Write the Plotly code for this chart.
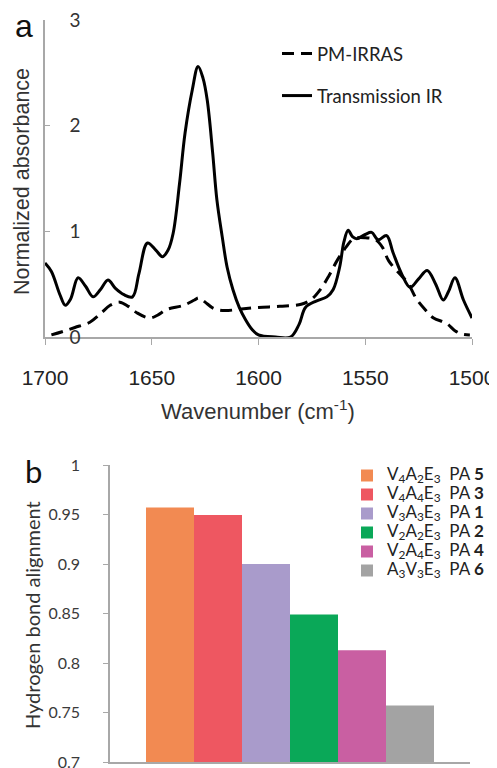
import plotly.graph_objects as go

W, H = 497, 768
OFF = 8  # page body margin offset

# ---- Panel a data ----
trans_wn = [1700, 1697, 1693, 1690.5, 1688, 1684.5, 1681, 1677.5, 1674, 1670.5, 1667, 1663, 1659,
            1656, 1652, 1648, 1645, 1642.4, 1640, 1637, 1634.4, 1631, 1628.3, 1626, 1624, 1621.5,
            1619.5, 1617, 1614.7, 1612, 1609, 1606, 1603, 1600, 1592, 1585, 1581, 1578, 1573,
            1568, 1565, 1562, 1560, 1558, 1556, 1554, 1550, 1547, 1544, 1540, 1537, 1533, 1529,
            1525, 1521, 1517, 1513.5, 1511, 1508, 1504, 1500]
trans_abs = [0.70, 0.62, 0.40, 0.30, 0.36, 0.56, 0.48, 0.38, 0.45, 0.54, 0.46, 0.40, 0.38,
             0.60, 0.89, 0.82, 0.76, 0.82, 0.98, 1.45, 1.93, 2.34, 2.56, 2.45, 2.24, 1.75,
             1.30, 0.95, 0.66, 0.45, 0.28, 0.16, 0.07, 0.02, 0.00, 0.00, 0.12, 0.28, 0.34,
             0.38, 0.45, 0.66, 0.90, 1.01, 0.95, 0.93, 0.97, 0.99, 0.92, 0.96, 0.80, 0.60, 0.47,
             0.55, 0.63, 0.50, 0.35, 0.43, 0.56, 0.35, 0.18]

pm_wn = [1697, 1692, 1686, 1679, 1674, 1669.5, 1665, 1661, 1657, 1651, 1647, 1643, 1635, 1630,
         1628, 1625, 1621, 1616, 1610, 1600, 1590, 1580, 1575, 1571, 1567, 1563, 1559, 1555.5,
         1550, 1545, 1542, 1539, 1534, 1530, 1526, 1522, 1518, 1512, 1508, 1505, 1501]
pm_abs = [0.02, 0.05, 0.09, 0.14, 0.22, 0.30, 0.33, 0.29, 0.23, 0.18, 0.21, 0.26, 0.30, 0.35,
          0.37, 0.33, 0.27, 0.25, 0.26, 0.28, 0.29, 0.31, 0.36, 0.45, 0.58, 0.73, 0.85, 0.93,
          0.94, 0.92, 0.85, 0.72, 0.60, 0.51, 0.36, 0.26, 0.18, 0.13, 0.06, 0.03, 0.02]

a_xticks = [1700, 1650, 1600, 1550, 1500]
a_yticks = [0, 1, 2, 3]

# ---- Panel b data ----
b_names = ["V<sub>4</sub>A<sub>2</sub>E<sub>3</sub>  PA <b>5</b>",
           "V<sub>4</sub>A<sub>4</sub>E<sub>3</sub>  PA <b>3</b>",
           "V<sub>3</sub>A<sub>3</sub>E<sub>3</sub>  PA <b>1</b>",
           "V<sub>2</sub>A<sub>2</sub>E<sub>3</sub>  PA <b>2</b>",
           "V<sub>2</sub>A<sub>4</sub>E<sub>3</sub>  PA <b>4</b>",
           "A<sub>3</sub>V<sub>3</sub>E<sub>3</sub>  PA <b>6</b>"]
b_values = [0.957, 0.9495, 0.900, 0.849, 0.813, 0.757]
b_colors = ["#F28A52", "#EE5761", "#A99BCB", "#0AA858", "#C95FA2", "#A3A3A3"]
b_yticks = [0.7, 0.75, 0.8, 0.85, 0.9, 0.95, 1]
b_yticktext = ["0.7", "0.75", "0.8", "0.85", "0.9", "0.95", "1"]

AXC = "#a8a8a8"

fig = go.Figure()

fig.add_trace(go.Scatter(x=pm_wn, y=pm_abs, mode="lines", name="PM-IRRAS",
                         line=dict(color="black", width=3, dash="12px,7px", shape="spline"),
                         xaxis="x", yaxis="y", legend="legend", legendgroup="pm"))
fig.add_trace(go.Scatter(x=trans_wn, y=trans_abs, mode="lines", name="Transmission IR",
                         line=dict(color="black", width=3, shape="spline"),
                         xaxis="x", yaxis="y", legend="legend", legendgroup="tr"))

for name, val, col in zip(b_names, b_values, b_colors):
    fig.add_trace(go.Bar(x=["PA"], y=[val],
                         name='<span style="font-size:17px">' + name + '</span>',
                         marker=dict(color=col, line=dict(width=0)),
                         xaxis="x2", yaxis="y2", legend="legend2"))

def px_x(p):
    return (p - OFF) / W

def px_y(p):
    return (H - (p - OFF)) / H

ann_common = dict(xref="paper", yref="paper", showarrow=False, xanchor="center", yanchor="middle")

fig.update_layout(
    template="none",
    width=W, height=H, margin=dict(l=0, r=0, t=0, b=0, autoexpand=False),
    paper_bgcolor="white", plot_bgcolor="white",
    barmode="group", bargap=0.2, bargroupgap=0,
    xaxis=dict(domain=[px_x(45), px_x(472)], range=[1700, 1500], tickvals=a_xticks,
               ticks="outside", ticklen=6, tickcolor=AXC, showline=True, linecolor=AXC,
               linewidth=1.5, showgrid=False, zeroline=False, anchor="y", automargin=False,
               ticklabeloverflow="allow",
               tickfont=dict(family="Liberation Sans", size=21, color="#222"),
               ticklabelstandoff=15),
    yaxis=dict(domain=[px_y(337), px_y(20)], range=[0, 3], tickvals=a_yticks,
               ticks="inside", ticklen=5, tickcolor=AXC, showline=True, linecolor=AXC,
               linewidth=1.5, showgrid=False, zeroline=False, anchor="x", automargin=False,
               ticklabelposition="outside", ticklabelstandoff=-41, ticklabeloverflow="allow",
               tickfont=dict(family="Lato", size=19, color="#333")),
    xaxis2=dict(domain=[px_x(110), px_x(470)], type="category", showticklabels=False,
                ticks="", showline=True, linecolor=AXC, linewidth=1.5, showgrid=False,
                zeroline=False, anchor="y2", automargin=False),
    yaxis2=dict(domain=[px_y(762), px_y(465)], range=[0.7, 1], tickvals=b_yticks,
                ticktext=b_yticktext, ticks="outside", ticklen=5, tickcolor=AXC,
                showline=True, linecolor=AXC, linewidth=1.5, showgrid=False, zeroline=False,
                anchor="x2", ticklabelstandoff=20, automargin=False, ticklabeloverflow="allow",
                tickfont=dict(family="Lato", size=16, color="#3a3a3a")),
    legend=dict(x=px_x(277), y=px_y(35), xanchor="left", yanchor="top",
                xref="container", yref="container",
                bgcolor="rgba(0,0,0,0)", traceorder="grouped", tracegroupgap=15,
                font=dict(family="Lato", size=18.5, color="#222")),
    legend2=dict(x=px_x(347), y=px_y(461), xanchor="left", yanchor="top",
                 xref="container", yref="container",
                 bgcolor="rgba(0,0,0,0)", traceorder="normal", itemwidth=30,
                 font=dict(family="Lato", size=11, color="#222")),
    annotations=[
        dict(text="a", x=px_x(24), y=px_y(26), font=dict(family="Liberation Sans", size=32, color="#111"), **ann_common),
        dict(text="b", x=px_x(33), y=px_y(471), font=dict(family="Lato", size=31, color="#111"), **ann_common),
        dict(text="Normalized absorbance", x=px_x(22), y=px_y(182), textangle=-90,
             font=dict(family="Liberation Sans", size=21.5, color="#333"), **ann_common),
        dict(text="Wavenumber (cm<sup>-1</sup>)", x=px_x(258), y=px_y(410),
             font=dict(family="Liberation Sans", size=22, color="#333"), **ann_common),
        dict(text="Hydrogen bond alignment", x=px_x(32), y=px_y(615), textangle=-90,
             font=dict(family="Lato", size=20, color="#333"), **ann_common),
    ],
)

fig.write_html("out.html")
